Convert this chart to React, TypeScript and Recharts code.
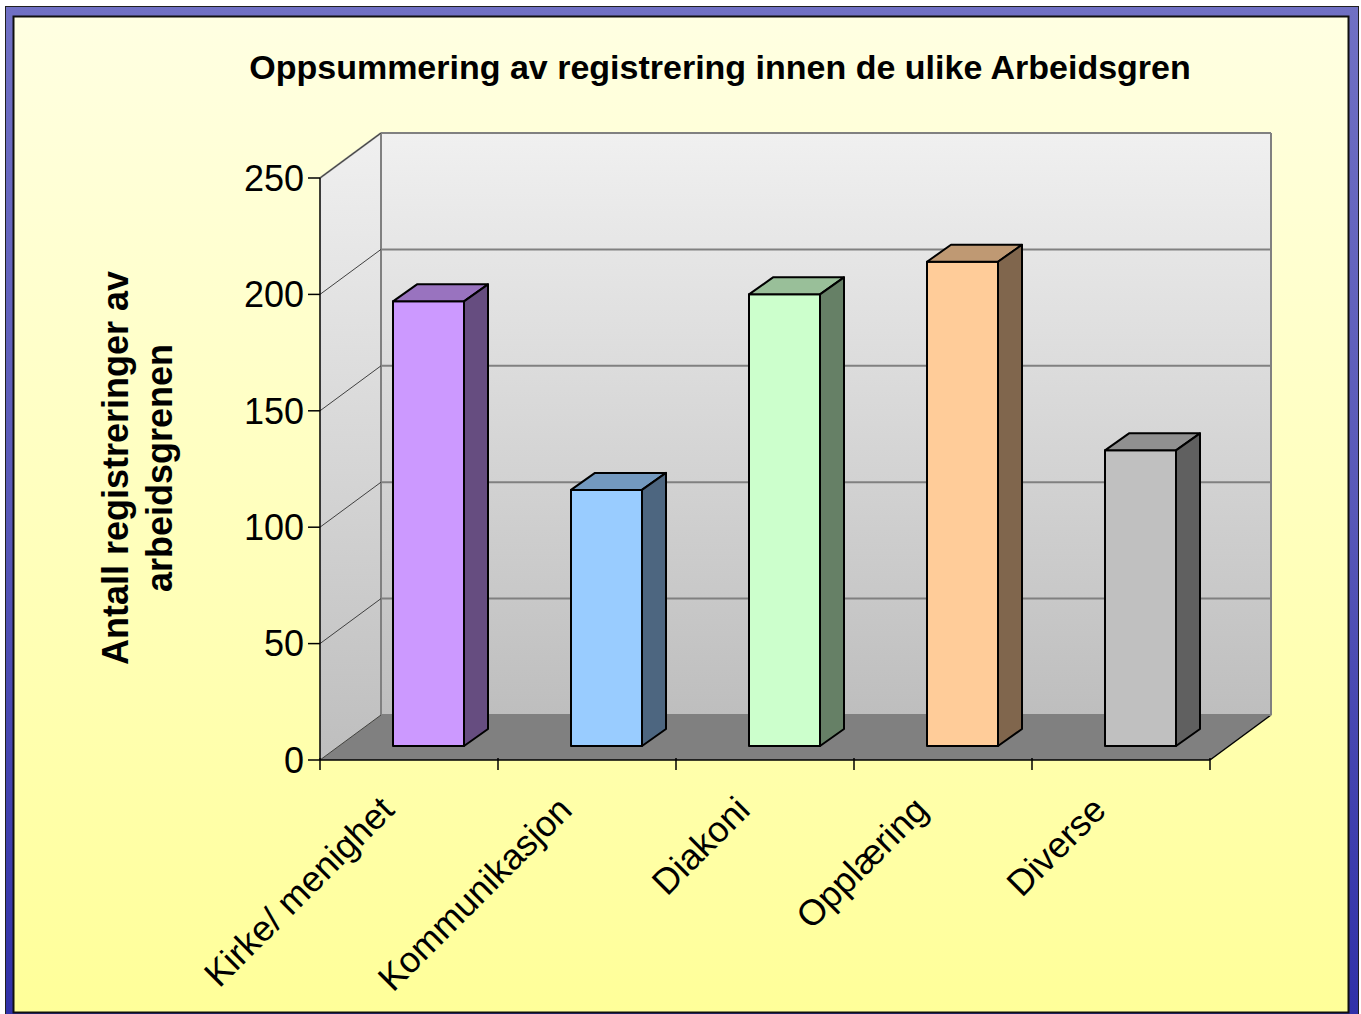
import React from "react";
import { BarChart, Bar, XAxis, YAxis, CartesianGrid } from "recharts";

// Oppsummering av registrering – 3D-søyler tegnet med egne former

const categories = ["Kirke/ menighet", "Kommunikasjon", "Diakoni", "Opplæring", "Diverse"];
const registreringer = [191, 110, 194, 208, 127];
const yTicks = [0, 50, 100, 150, 200, 250];
const frontColors = ["#CC99FF", "#99CCFF", "#CCFFCC", "#FFCC99", "#C0C0C0"];

const data = categories.map((navn, i) => ({ navn, antall: registreringer[i] }));

const W = 1361;
const H = 1014;
const PLOT_L = 320;
const PLOT_R = 1210;
const PLOT_T = 178;
const PLOT_B = 760;
const DEPTH_X = 61; // dybde til bakvegg
const DEPTH_Y = 45;
const FACE_X = 19; // søylens forside ligger litt inn i dybden
const FACE_Y = 14;
const BAR_DX = 24; // søylens egen dybde
const BAR_DY = 17;
const BAND = (PLOT_R - PLOT_L) / categories.length;
const FONT = '"Liberation Sans", Arial, sans-serif';

const shade = (hex: string, f: number) => {
    const n = parseInt(hex.slice(1), 16);
    const c = [(n >> 16) & 255, (n >> 8) & 255, n & 255].map((v) => Math.round(v * f));
    return `rgb(${c[0]},${c[1]},${c[2]})`;
};

const Box3D = (props: any) => {
    const { index } = props;
    const x = props.x + FACE_X;
    const y = props.y - FACE_Y;
    const w = props.width;
    const h = props.height;
    const base = frontColors[index % frontColors.length];
    return (
        <g stroke="#000" strokeWidth={2} strokeLinejoin="round">
            <rect x={x} y={y} width={w} height={h} fill={base} />
            <polygon
                points={`${x},${y} ${x + BAR_DX},${y - BAR_DY} ${x + w + BAR_DX},${y - BAR_DY} ${x + w},${y}`}
                fill={shade(base, 0.75)}
            />
            <polygon
                points={`${x + w},${y} ${x + w + BAR_DX},${y - BAR_DY} ${x + w + BAR_DX},${y + h - BAR_DY} ${x + w},${y + h}`}
                fill={shade(base, 0.5)}
            />
        </g>
    );
};

const gridLine = (p: any) => {
    const { x1, x2, y1 } = p;
    const yb = y1 - DEPTH_Y;
    return (
        <g key={p.key ?? `g-${p.index}`}>
            <line x1={x1} y1={y1} x2={x1 + DEPTH_X} y2={yb} stroke="#404040" strokeWidth={1} />
            <line x1={x1 + DEPTH_X} y1={yb} x2={x2 + DEPTH_X} y2={yb} stroke="#808080" strokeWidth={2} />
        </g>
    );
};

const XTick = (props: any) => {
    const { x, y, payload, index } = props;
    const left = x - BAND / 2;
    const ax = x - 13;
    const ay = y + 44;
    return (
        <g>
            <line x1={left} y1={y - 10} x2={left} y2={y + 2} stroke="#000" strokeWidth={1.5} />
            {index === categories.length - 1 && (
                <line x1={left + BAND} y1={y - 10} x2={left + BAND} y2={y + 2} stroke="#000" strokeWidth={1.5} />
            )}
            <text
                x={ax}
                y={ay}
                transform={`rotate(-45 ${ax} ${ay})`}
                textAnchor="end"
                fontFamily={FONT}
                fontSize={36}
                fill="#000"
            >
                {payload.value}
            </text>
        </g>
    );
};

function Background() {
    const bl = PLOT_L + DEPTH_X;
    const br = PLOT_R + DEPTH_X;
    const bt = PLOT_T - DEPTH_Y;
    const bb = PLOT_B - DEPTH_Y;
    return (
        <svg width={W} height={H} style={{ position: "absolute", left: 0, top: 0 }}>
            <defs>
                <linearGradient id="frame" x1="0" y1="0" x2="0" y2="1">
                    <stop offset="0" stopColor="#7070C4" />
                    <stop offset="0.5" stopColor="#5858B8" />
                    <stop offset="1" stopColor="#3030A8" />
                </linearGradient>
                <linearGradient id="paper" x1="0" y1="0" x2="0" y2="1">
                    <stop offset="0" stopColor="#FFFFE2" />
                    <stop offset="1" stopColor="#FFFF99" />
                </linearGradient>
                <linearGradient id="wall" x1="0" y1="0" x2="0" y2="1">
                    <stop offset="0" stopColor="#F0F0F0" />
                    <stop offset="1" stopColor="#BEBEBE" />
                </linearGradient>
            </defs>
            <rect x={0} y={0} width={W} height={H} fill="#fff" />
            <rect x={5.5} y={6.5} width={1353} height={1012} fill="url(#frame)" stroke="#202020" strokeWidth={1} />
            <rect x={13.5} y={16.5} width={1335} height={996} fill="url(#paper)" stroke="#101010" strokeWidth={2} />

            <polygon points={`${bl},${bt} ${br},${bt} ${br},${bb} ${bl},${bb}`} fill="url(#wall)" />
            <polygon points={`${PLOT_L},${PLOT_T} ${bl},${bt} ${bl},${bb} ${PLOT_L},${PLOT_B}`} fill="url(#wall)" />
            <polygon points={`${PLOT_L},${PLOT_B} ${bl},${bb} ${br},${bb} ${PLOT_R},${PLOT_B}`} fill="#808080" />
            <line x1={bl} y1={bt} x2={bl} y2={bb} stroke="#808080" strokeWidth={2} />
            <line x1={br} y1={bt} x2={br} y2={bb} stroke="#808080" strokeWidth={2} />
            <line x1={PLOT_L} y1={PLOT_T} x2={bl} y2={bt} stroke="#808080" strokeWidth={2} />
            <line x1={PLOT_R} y1={PLOT_B} x2={br} y2={bb} stroke="#000" strokeWidth={1.5} />

            <text x={720} y={79} textAnchor="middle" fontFamily={FONT} fontWeight="bold" fontSize={34} fill="#000">
                Oppsummering av registrering innen de ulike Arbeidsgren
            </text>
            <g transform="translate(128 468) rotate(-90)">
                <text textAnchor="middle" fontFamily={FONT} fontWeight="bold" fontSize={36} fill="#000">
                    <tspan x={0} y={0}>Antall registreringer av</tspan>
                    <tspan x={0} y={44}>arbeidsgrenen</tspan>
                </text>
            </g>
        </svg>
    );
}

export default function App() {
    return (
        <div style={{ position: "absolute", left: 0, top: 0, width: W, height: H, overflow: "hidden" }}>
            <Background />
            <div style={{ position: "absolute", left: 0, top: 0 }}>
                <BarChart
                    width={W}
                    height={H}
                    data={data}
                    margin={{ top: PLOT_T, right: W - PLOT_R, bottom: 24, left: PLOT_L - 80 }}
                    barCategoryGap={0}
                >
                    <CartesianGrid vertical={false} horizontal={gridLine} stroke="#808080" />
                    <XAxis
                        dataKey="navn"
                        height={230}
                        axisLine={{ stroke: "#000", strokeWidth: 1.5 }}
                        tickLine={false}
                        interval={0}
                        tick={<XTick />}
                    />
                    <YAxis
                        width={80}
                        domain={[0, 250]}
                        ticks={yTicks}
                        interval={0}
                        axisLine={{ stroke: "#000", strokeWidth: 1.5 }}
                        tickLine={{ stroke: "#000", strokeWidth: 1.5 }}
                        tickSize={12}
                        tickMargin={4}
                        tick={{ fontFamily: FONT, fontSize: 36, fill: "#000" }}
                    />
                    <Bar dataKey="antall" barSize={71} shape={<Box3D />} isAnimationActive={false} />
                </BarChart>
            </div>
        </div>
    );
}
